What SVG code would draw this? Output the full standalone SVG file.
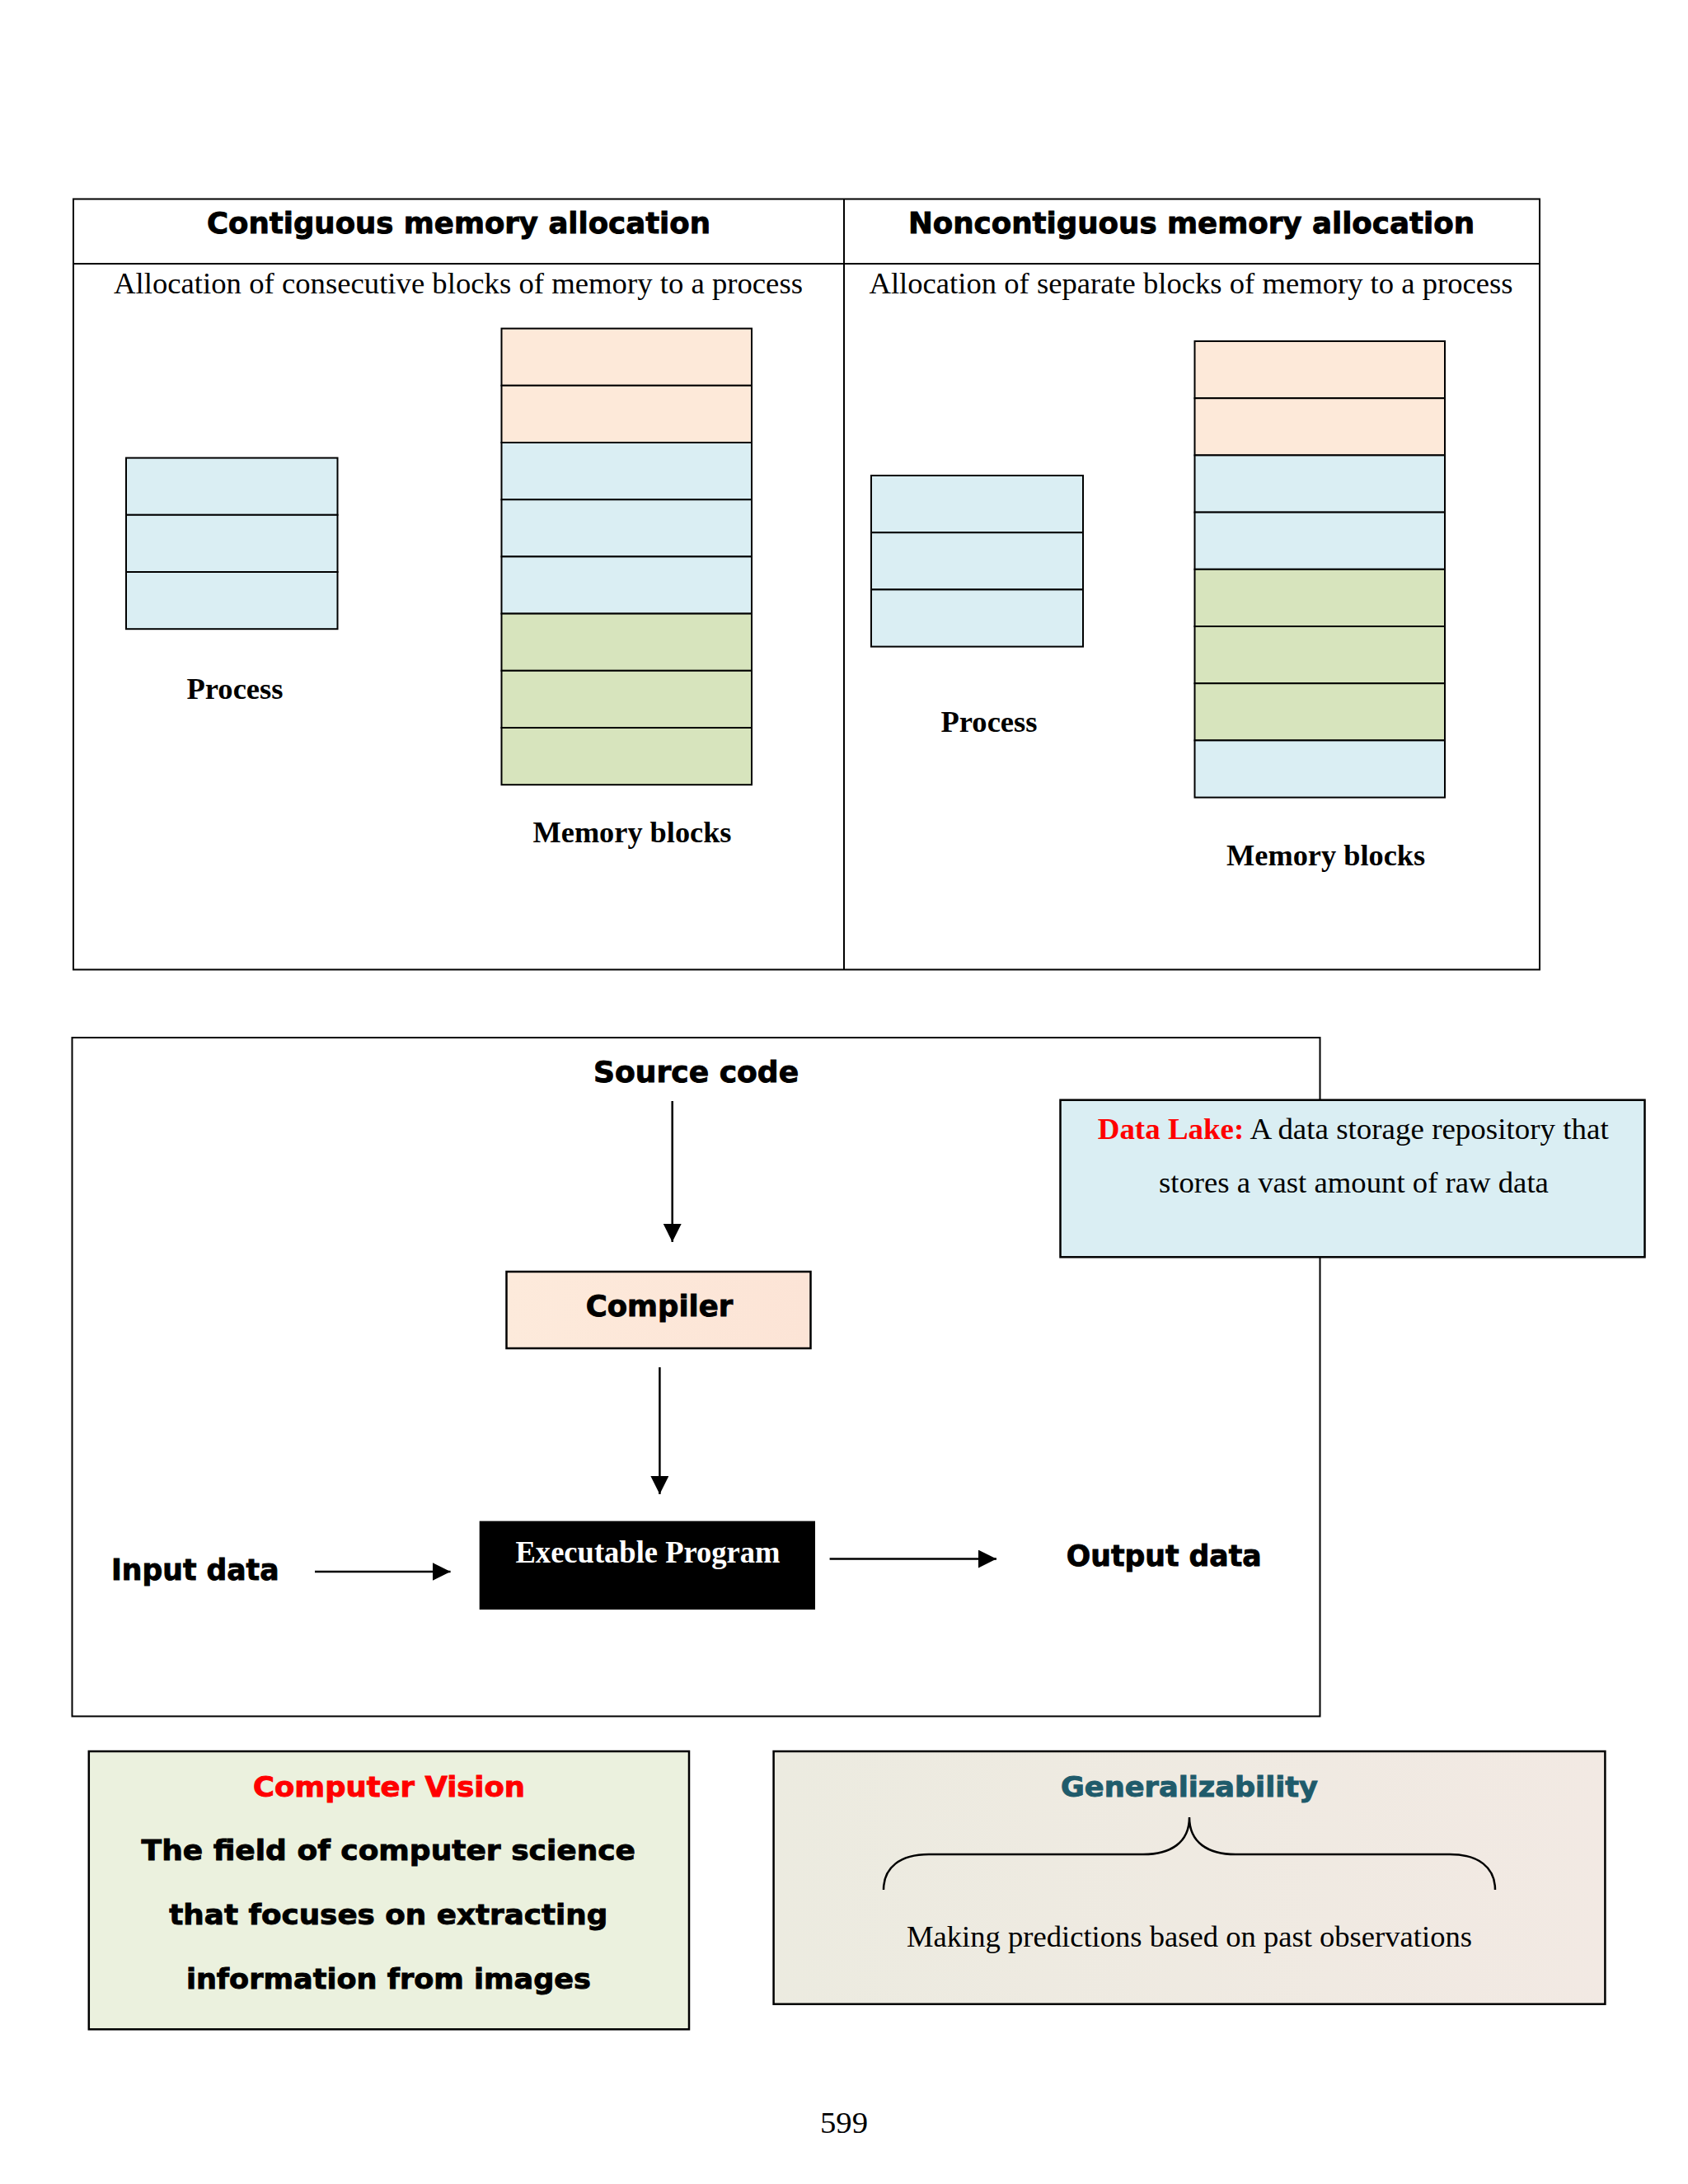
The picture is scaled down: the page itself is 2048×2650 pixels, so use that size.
<svg xmlns="http://www.w3.org/2000/svg" width="2048" height="2650" viewBox="0 0 2048 2650">
<defs>
<style>
.hd{font-family:"DejaVu Sans","Liberation Sans",sans-serif;font-weight:bold;font-size:35px;fill:#000;stroke:#000;stroke-width:0.9}
.sr{font-family:"Liberation Serif","Times New Roman",serif;font-size:36px;fill:#000}
.srb{font-family:"Liberation Serif","Times New Roman",serif;font-size:36px;font-weight:bold;fill:#000}
.ln{fill:none;stroke:#000;stroke-width:2}
.pe{fill:#fde9d9;stroke:#000;stroke-width:2}
.bl{fill:#daeef3;stroke:#000;stroke-width:2}
.gr{fill:#d7e4bd;stroke:#000;stroke-width:2}
.con{fill:none;stroke:#000;stroke-width:2.5}
</style>
<marker id="ah" markerUnits="userSpaceOnUse" markerWidth="22" markerHeight="22" viewBox="0 0 20 20" refX="20" refY="10" orient="auto">
<path d="M0,0 L20,10 L0,20 Z" fill="#000"/>
</marker>
<linearGradient id="gComp" x1="0" y1="0" x2="1" y2="0">
<stop offset="0" stop-color="#fdeadb"/><stop offset="1" stop-color="#fce4d6"/>
</linearGradient>
<linearGradient id="gGen" x1="0" y1="0" x2="1" y2="0">
<stop offset="0" stop-color="#ecebe0"/><stop offset="1" stop-color="#f2e9e3"/>
</linearGradient>
</defs>
<rect width="2048" height="2650" fill="#fff"/>

<!-- Memory allocation table -->
<g id="table">
<rect class="ln" x="89" y="241.5" width="1779" height="935"/>
<line class="ln" x1="89" y1="320" x2="1868" y2="320"/>
<line class="ln" x1="1024" y1="241.5" x2="1024" y2="1176.5"/>
<text class="hd" x="556.5" y="283" text-anchor="middle" textLength="611" lengthAdjust="spacingAndGlyphs">Contiguous memory allocation</text>
<text class="hd" x="1445.5" y="283" text-anchor="middle" textLength="687" lengthAdjust="spacingAndGlyphs">Noncontiguous memory allocation</text>
<text class="sr" x="556" y="356" text-anchor="middle" textLength="836" lengthAdjust="spacingAndGlyphs">Allocation of consecutive blocks of memory to a process</text>
<text class="sr" x="1445" y="356" text-anchor="middle" textLength="781" lengthAdjust="spacingAndGlyphs">Allocation of separate blocks of memory to a process</text>
</g>

<g id="process-contiguous">
<rect class="bl" x="153" y="555.6" width="256.5" height="69.2"/>
<rect class="bl" x="153" y="624.8" width="256.5" height="69.2"/>
<rect class="bl" x="153" y="694" width="256.5" height="69.2"/>
<text class="srb" x="285" y="848" text-anchor="middle" textLength="117" lengthAdjust="spacingAndGlyphs">Process</text>
</g>

<g id="memory-contiguous">
<rect class="pe" x="608.5" y="398.6" width="303.5" height="69.2"/>
<rect class="pe" x="608.5" y="467.8" width="303.5" height="69.2"/>
<rect class="bl" x="608.5" y="537" width="303.5" height="69.2"/>
<rect class="bl" x="608.5" y="606.2" width="303.5" height="69.2"/>
<rect class="bl" x="608.5" y="675.4" width="303.5" height="69.2"/>
<rect class="gr" x="608.5" y="744.6" width="303.5" height="69.2"/>
<rect class="gr" x="608.5" y="813.8" width="303.5" height="69.2"/>
<rect class="gr" x="608.5" y="883" width="303.5" height="69.2"/>
<text class="srb" x="767" y="1022" text-anchor="middle" textLength="241" lengthAdjust="spacingAndGlyphs">Memory blocks</text>
</g>

<g id="process-noncontiguous">
<rect class="bl" x="1057" y="577" width="257" height="69.2"/>
<rect class="bl" x="1057" y="646.2" width="257" height="69.2"/>
<rect class="bl" x="1057" y="715.4" width="257" height="69.2"/>
<text class="srb" x="1200" y="887.5" text-anchor="middle" textLength="117" lengthAdjust="spacingAndGlyphs">Process</text>
</g>

<g id="memory-noncontiguous">
<rect class="pe" x="1449.5" y="414" width="303.5" height="69.2"/>
<rect class="pe" x="1449.5" y="483.2" width="303.5" height="69.2"/>
<rect class="bl" x="1449.5" y="552.4" width="303.5" height="69.2"/>
<rect class="bl" x="1449.5" y="621.6" width="303.5" height="69.2"/>
<rect class="gr" x="1449.5" y="690.8" width="303.5" height="69.2"/>
<rect class="gr" x="1449.5" y="760" width="303.5" height="69.2"/>
<rect class="gr" x="1449.5" y="829.2" width="303.5" height="69.2"/>
<rect class="bl" x="1449.5" y="898.4" width="303.5" height="69.2"/>
<text class="srb" x="1608.6" y="1050" text-anchor="middle" textLength="241" lengthAdjust="spacingAndGlyphs">Memory blocks</text>
</g>

<!-- Compilation flow frame -->
<g id="flow-frame">
<rect class="ln" x="87.5" y="1259" width="1514" height="823.5"/>
</g>

<g id="source-code">
<text class="hd" x="844.6" y="1313" text-anchor="middle" textLength="249" lengthAdjust="spacingAndGlyphs">Source code</text>
</g>

<g id="compiler">
<rect x="614.5" y="1543" width="369" height="93" fill="url(#gComp)" stroke="#000" stroke-width="2.5"/>
<text class="hd" x="800" y="1597" text-anchor="middle" textLength="178.5" lengthAdjust="spacingAndGlyphs">Compiler</text>
</g>

<g id="executable">
<rect x="581.7" y="1845.6" width="407.3" height="107.4" fill="#000"/>
<text class="srb" x="786" y="1895.6" text-anchor="middle" fill="#fff" style="fill:#fff;font-size:37px" textLength="321" lengthAdjust="spacingAndGlyphs">Executable Program</text>
</g>

<g id="input-data">
<text class="hd" x="135" y="1917.4" textLength="203.5" lengthAdjust="spacingAndGlyphs">Input data</text>
</g>

<g id="output-data">
<text class="hd" x="1293.8" y="1900" textLength="236.8" lengthAdjust="spacingAndGlyphs">Output data</text>
</g>

<g id="connectors">
<line class="con" x1="815.7" y1="1336" x2="815.7" y2="1507" marker-end="url(#ah)"/>
<line class="con" x1="800.4" y1="1659" x2="800.4" y2="1813" marker-end="url(#ah)"/>
<line class="con" x1="382" y1="1907" x2="546.6" y2="1907" marker-end="url(#ah)"/>
<line class="con" x1="1006.6" y1="1891.6" x2="1209" y2="1891.6" marker-end="url(#ah)"/>
</g>

<g id="data-lake">
<rect x="1286.5" y="1334.7" width="709" height="190.6" fill="#daeef3" stroke="#000" stroke-width="2.5"/>
<text class="sr" x="1641.7" y="1381.8" text-anchor="middle" textLength="620" lengthAdjust="spacingAndGlyphs"><tspan font-weight="bold" fill="#ff0000" style="fill:#ff0000">Data Lake:</tspan> A data storage repository that</text>
<text class="sr" x="1642.4" y="1446.7" text-anchor="middle" textLength="473" lengthAdjust="spacingAndGlyphs">stores a vast amount of raw data</text>
</g>

<g id="computer-vision">
<rect x="107.8" y="2125" width="728.2" height="337.3" fill="#ebf1de" stroke="#000" stroke-width="2.5"/>
<text class="hd" x="472" y="2180" text-anchor="middle" style="fill:#ff0000;stroke:#ff0000;font-size:34px" textLength="330" lengthAdjust="spacingAndGlyphs">Computer Vision</text>
<text class="hd" x="471.3" y="2256.7" text-anchor="middle" style="font-size:34px" textLength="599.4" lengthAdjust="spacingAndGlyphs">The field of computer science</text>
<text class="hd" x="471.3" y="2335" text-anchor="middle" style="font-size:34px" textLength="532" lengthAdjust="spacingAndGlyphs">that focuses on extracting</text>
<text class="hd" x="471.4" y="2413" text-anchor="middle" style="font-size:34px" textLength="491" lengthAdjust="spacingAndGlyphs">information from images</text>
</g>

<g id="generalizability">
<rect x="938.6" y="2125" width="1008.8" height="306.7" fill="url(#gGen)" stroke="#000" stroke-width="2.5"/>
<text class="hd" x="1443" y="2180" text-anchor="middle" style="fill:#1f5b6b;stroke:#1f5b6b;font-size:33px" textLength="312" lengthAdjust="spacingAndGlyphs">Generalizability</text>
<path d="M1072,2293 C1072,2266 1092,2250 1127,2250 L1387,2250 C1420,2250 1443,2236 1443,2205 C1443,2236 1466,2250 1499,2250 L1759,2250 C1794,2250 1814,2266 1814,2293" fill="none" stroke="#000" stroke-width="2.5"/>
<text class="sr" x="1443" y="2361.7" text-anchor="middle" textLength="686" lengthAdjust="spacingAndGlyphs">Making predictions based on past observations</text>
</g>

<g id="page-number">
<text class="sr" x="1024" y="2588" text-anchor="middle" textLength="58" lengthAdjust="spacingAndGlyphs">599</text>
</g>
</svg>
